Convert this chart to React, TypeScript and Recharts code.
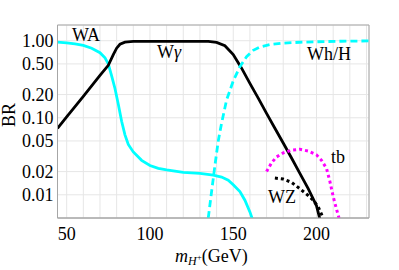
import { LineChart, Line, XAxis, YAxis, CartesianGrid, ReferenceArea } from 'recharts'

// charged Higgs mass (GeV) vs branching ratio
const WA_M = [44.5, 50, 55, 60, 65, 70, 73, 75, 77, 79, 81, 83, 85, 87, 90, 95, 100, 105, 110, 120, 130, 138, 143, 147, 150, 154, 157, 160, 162]
const WA_BR = [0.96, 0.94, 0.91, 0.87, 0.8, 0.7, 0.6, 0.5, 0.35, 0.24, 0.15, 0.09, 0.06, 0.045, 0.036, 0.028, 0.024, 0.022, 0.021, 0.0195, 0.019, 0.018, 0.017, 0.0155, 0.0135, 0.011, 0.0085, 0.006, 0.0045]

const WG_M = [44.5, 50, 60, 70, 75, 78, 80, 82, 85, 90, 100, 120, 135, 140, 145, 150, 155, 160, 165, 170, 175, 180, 185, 190, 195, 200, 203]
const WG_BR = [0.073, 0.103, 0.19, 0.355, 0.48, 0.66, 0.8, 0.9, 0.96, 0.98, 0.98, 0.98, 0.98, 0.95, 0.86, 0.66, 0.44, 0.28, 0.18, 0.114, 0.073, 0.047, 0.03, 0.019, 0.012, 0.0072, 0.004]

const WH_M = [135, 137, 139, 141, 143, 146, 150, 154, 158, 162, 166, 172, 180, 190, 200, 215, 231.5]
const WH_BR = [0.005, 0.011, 0.024, 0.05, 0.085, 0.17, 0.3, 0.46, 0.62, 0.75, 0.83, 0.89, 0.93, 0.955, 0.97, 0.985, 0.995]

const TB_M = [170, 173, 176, 180, 185, 190, 195, 200, 203, 206, 208, 210, 212, 213.5]
const TB_BR = [0.02, 0.026, 0.031, 0.035, 0.038, 0.039, 0.037, 0.033, 0.028, 0.022, 0.015, 0.0095, 0.0065, 0.005]

const WZ_M = [175, 180, 185, 190, 195, 198, 201, 204]
const WZ_BR = [0.0165, 0.016, 0.0145, 0.012, 0.0098, 0.0085, 0.007, 0.005]

const X_TICKS = [50, 60, 70, 80, 90, 100, 110, 120, 130, 140, 150, 160, 170, 180, 190, 200, 210, 220, 230]
const Y_TICKS = [0.01, 0.02, 0.05, 0.1, 0.2, 0.5, 1]

const zip = (m: number[], br: number[]) => m.map((v, i) => ({ m: v, br: br[i] }))

const FONT = '"Liberation Serif", "DejaVu Serif", serif'
const AXIS = '#a6a6a6'

const XTick = ({ x, y, payload }: any) =>
  payload.value % 50 === 0 ? (
    <text x={x} y={y} dy="0.72em" textAnchor="middle" fontFamily={FONT} fontSize={18} fill="#000">
      {payload.value}
    </text>
  ) : null

const YTick = ({ x, y, payload }: any) => (
  <text x={x} y={y} dy="0.34em" textAnchor="end" fontFamily={FONT} fontSize={18} fill="#000">
    {Number(payload.value).toFixed(2)}
  </text>
)

const lbl = (left: number, top: number, extra?: React.CSSProperties): React.CSSProperties => ({
  position: 'absolute', left, top, fontFamily: FONT, fontSize: 17, color: '#000', lineHeight: 1, whiteSpace: 'nowrap', ...extra,
})

export default function App() {
  return (
    <div style={{ position: 'absolute', left: 0, top: 0, width: 399, height: 270, background: '#fff', fontFamily: FONT }}>
      <LineChart width={399} height={270} margin={{ top: 25, right: 30, bottom: 0, left: 0 }}>
        <CartesianGrid stroke="#e6e6e6" />
        <XAxis
          type="number"
          dataKey="m"
          domain={[44.5, 231.5]}
          ticks={X_TICKS}
          interval={0}
          allowDataOverflow
          tick={<XTick />}
          tickLine={false}
          tickSize={0}
          tickMargin={9}
          axisLine={{ stroke: AXIS }}
          height={52}
        />
        <YAxis
          type="number"
          scale="log"
          domain={[0.005, 1.6]}
          ticks={Y_TICKS}
          interval={0}
          allowDataOverflow
          tick={<YTick />}
          tickLine={false}
          tickSize={0}
          tickMargin={4}
          axisLine={{ stroke: AXIS }}
          width={57.5}
        />
        <ReferenceArea x1={44.5} x2={231.5} y1={0.005} y2={1.6} fill="none" stroke={AXIS} ifOverflow="visible" />
        <Line data={zip(WA_M, WA_BR)} dataKey="br" stroke="#00ffff" strokeWidth={2.8} dot={false} isAnimationActive={false} />
        <Line data={zip(WG_M, WG_BR)} dataKey="br" stroke="#000" strokeWidth={2.8} dot={false} isAnimationActive={false} />
        <Line data={zip(WH_M, WH_BR)} dataKey="br" stroke="#00ffff" strokeWidth={2.8} strokeDasharray="7 4" dot={false} isAnimationActive={false} />
        <Line data={zip(TB_M, TB_BR)} dataKey="br" stroke="#ff00ff" strokeWidth={3} strokeDasharray="3 3" dot={false} isAnimationActive={false} />
        <Line data={zip(WZ_M, WZ_BR)} dataKey="br" stroke="#000" strokeWidth={3} strokeDasharray="3 3" dot={false} isAnimationActive={false} />
      </LineChart>
      <div style={lbl(72, 26, { fontSize: 18 })}>WA</div>
      <div style={lbl(157, 43, { fontSize: 18 })}>W<i>γ</i></div>
      <div style={lbl(307, 45, { fontSize: 18 })}>Wh/H</div>
      <div style={lbl(331, 148, { fontSize: 18 })}>tb</div>
      <div style={lbl(268, 188, { fontSize: 18 })}>WZ</div>
      <div style={lbl(-3, 106, { transform: 'rotate(-90deg)', width: 24, textAlign: 'center', fontSize: 18 })}>BR</div>
      <div style={lbl(175, 247, { fontSize: 18 })}>
        <i>m</i>
        <sub style={{ fontSize: 12, verticalAlign: 'baseline', position: 'relative', top: 3 }}>
          <i>H</i>
          <sup style={{ fontSize: 9, position: 'relative', top: -5, verticalAlign: 'baseline' }}>+</sup>
        </sub>
        (GeV)
      </div>
    </div>
  )
}
